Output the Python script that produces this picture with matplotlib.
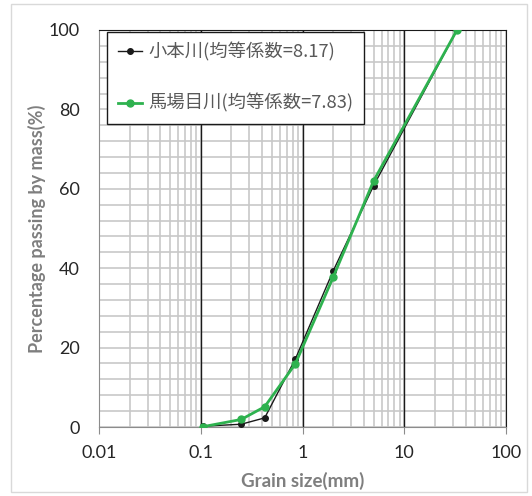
import matplotlib.pyplot as plt
from matplotlib.ticker import FixedLocator, LogLocator, NullFormatter, MultipleLocator
from matplotlib.patches import Rectangle

# sieve sizes (mm) and percent passing
grain_size = [0.106, 0.25, 0.425, 0.85, 2.0, 5.0, 33.0]
kamoto = [0.2, 0.7, 2.3, 17.1, 39.3, 60.8, 100.0]
babame = [0.1, 1.9, 5.1, 15.9, 37.7, 62.0, 100.0]

label_kamoto = '小本川(均等係数=8.17)'
label_babame = '馬場目川(均等係数=7.83)'

xticks = [0.01, 0.1, 1, 10, 100]
xtick_labels = ['0.01', '0.1', '1', '10', '100']

fig = plt.figure(figsize=(5.32, 4.96), dpi=100)
ax = fig.add_axes([99 / 532, 1 - 427 / 496, 407 / 532, 397 / 496])

# outer chart border
fig.patches.append(Rectangle((11 / 532, 4 / 496), 516 / 532, 488 / 496,
                             transform=fig.transFigure, fill=False,
                             edgecolor='#d9d9d9', lw=1))

ax.set_xscale('log')
ax.set_xlim(0.01, 100)
ax.set_ylim(0, 100)

ax.xaxis.set_major_locator(FixedLocator(xticks))
ax.set_xticklabels(xtick_labels)
ax.xaxis.set_minor_locator(LogLocator(base=10, subs=range(2, 10)))
ax.xaxis.set_minor_formatter(NullFormatter())
ax.yaxis.set_major_locator(MultipleLocator(20))
ax.yaxis.set_minor_locator(MultipleLocator(4))

ax.grid(which='minor', axis='x', color='#c8c8c8', lw=1.2)
ax.grid(which='major', axis='x', color='#c8c8c8', lw=1.2)
ax.grid(which='both', axis='y', color='#c8c8c8', lw=1.2)
ax.set_axisbelow(True)
# decade lines drawn dark, over the gray grid
for xd in xticks[1:-1]:
    ax.axvline(xd, color='#1a1a1a', lw=1.0, zorder=1.5)

for s in ['left', 'bottom']:
    ax.spines[s].set_color('#8c8c8c')
for s in ['top', 'right']:
    ax.spines[s].set_color('#1a1a1a')

ax.tick_params(axis='x', which='major', length=5, color='#8c8c8c', direction='out')
ax.tick_params(axis='x', which='minor', length=0)
ax.tick_params(axis='y', which='both', length=0, pad=14)
ax.tick_params(axis='x', pad=8)
for lab in ax.get_xticklabels() + ax.get_yticklabels():
    lab.set_fontfamily('Lato')
    lab.set_fontsize(13)
    lab.set_color('#262626')

ax.plot(grain_size, kamoto, color='#1a1a1a', lw=1.0, marker='o', ms=4,
        label=label_kamoto, zorder=3)
ax.plot(grain_size, babame, color='#2eb24f', lw=2.0, marker='o', ms=5,
        label=label_babame, zorder=4)

ax.set_xlabel('Grain size(mm)', fontfamily='Lato', fontweight='bold',
              fontsize=13.5, color='#7f7f7f', labelpad=8)
ax.set_ylabel('Percentage passing by mass(%)', fontfamily='Lato', fontweight='bold',
              fontsize=13, color='#7f7f7f', labelpad=2)

leg = ax.legend(loc='upper left', bbox_to_anchor=(0.019, 0.996),
                prop={'family': ['Noto Sans CJK JP', 'DejaVu Sans'], 'size': 13.2},
                frameon=True, fancybox=False, edgecolor='#1a1a1a',
                framealpha=1, labelspacing=1.75, handlelength=1.35,
                handletextpad=0.3, borderpad=0.6, borderaxespad=0)
leg.get_frame().set_linewidth(1.0)
for t in leg.get_texts():
    t.set_color('#595959')

fig.savefig('out.png', dpi=100)
